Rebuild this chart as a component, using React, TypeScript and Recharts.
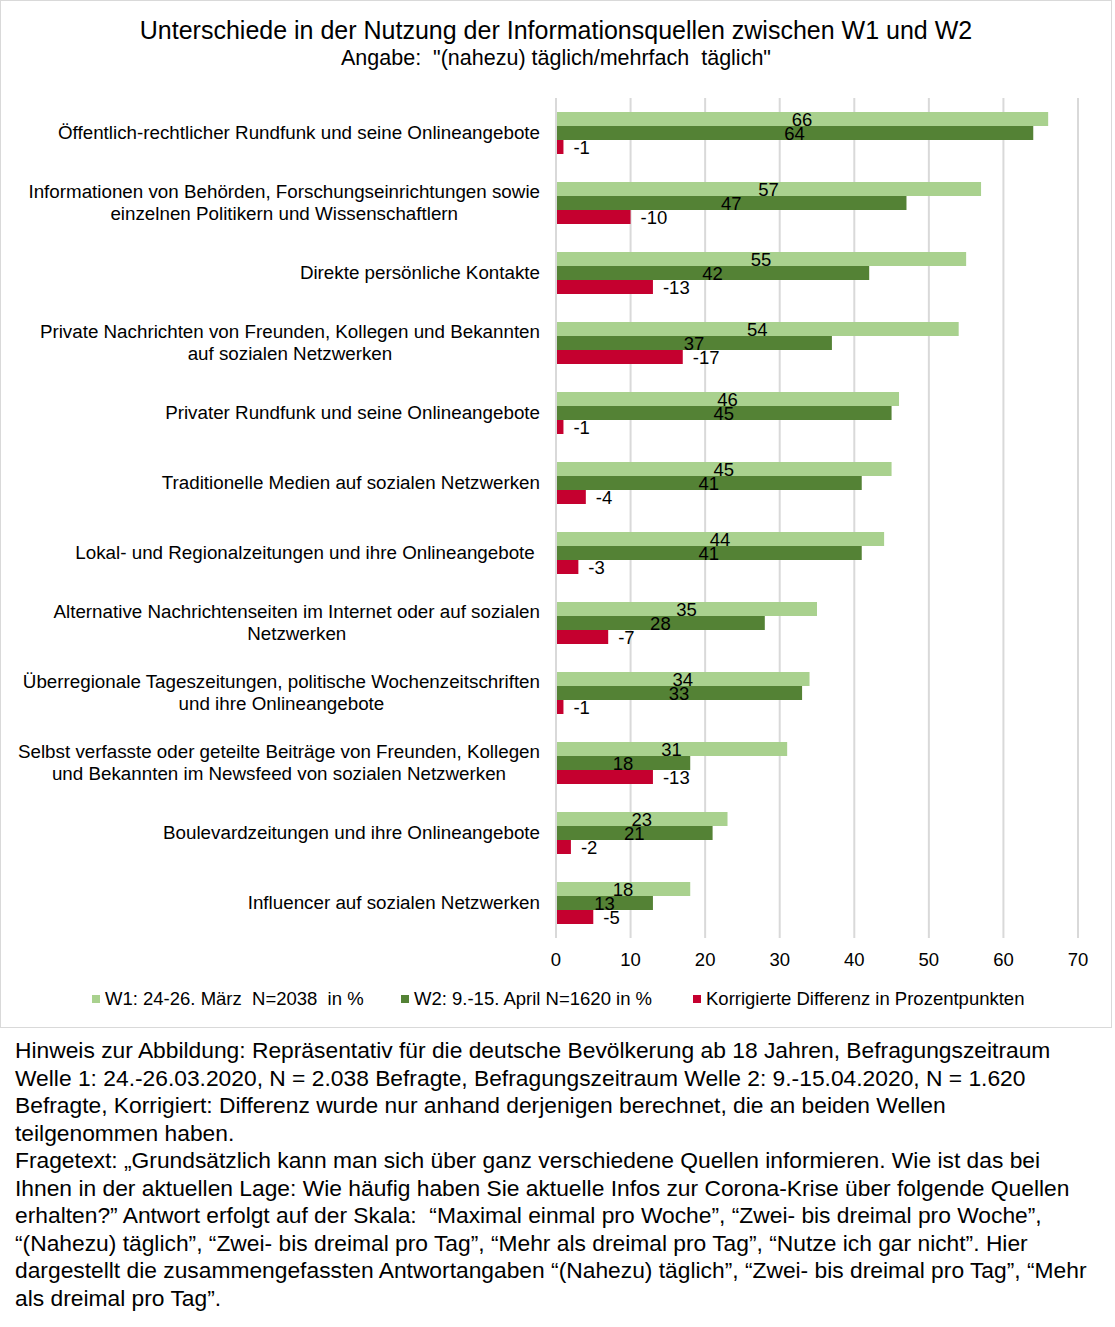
import { BarChart, Bar, XAxis, YAxis, CartesianGrid, LabelList } from 'recharts';

const categories = [
  'Öffentlich-rechtlicher Rundfunk und seine Onlineangebote',
  'Informationen von Behörden, Forschungseinrichtungen sowie\neinzelnen Politikern und Wissenschaftlern',
  'Direkte persönliche Kontakte',
  'Private Nachrichten von Freunden, Kollegen und Bekannten\nauf sozialen Netzwerken',
  'Privater Rundfunk und seine Onlineangebote',
  'Traditionelle Medien auf sozialen Netzwerken',
  'Lokal- und Regionalzeitungen und ihre Onlineangebote ',
  'Alternative Nachrichtenseiten im Internet oder auf sozialen\nNetzwerken',
  'Überregionale Tageszeitungen, politische Wochenzeitschriften\nund ihre Onlineangebote',
  'Selbst verfasste oder geteilte Beiträge von Freunden, Kollegen\nund Bekannten im Newsfeed von sozialen Netzwerken',
  'Boulevardzeitungen und ihre Onlineangebote',
  'Influencer auf sozialen Netzwerken'
];

const w1Values = [66, 57, 55, 54, 46, 45, 44, 35, 34, 31, 23, 18];
const w2Values = [64, 47, 42, 37, 45, 41, 41, 28, 33, 18, 21, 13];
const diffValues = [-1, -10, -13, -17, -1, -4, -3, -7, -1, -13, -2, -5];

const xTicks = [0, 10, 20, 30, 40, 50, 60, 70];

const seriesNames = {
  w1: 'W1: 24-26. März  N=2038  in %',
  w2: 'W2: 9.-15. April N=1620 in %',
  diff: 'Korrigierte Differenz in Prozentpunkten'
};

const noteLines = [
  'Hinweis zur Abbildung: Repräsentativ für die deutsche Bevölkerung ab 18 Jahren, Befragungszeitraum',
  'Welle 1: 24.-26.03.2020, N = 2.038 Befragte, Befragungszeitraum Welle 2: 9.-15.04.2020, N = 1.620',
  'Befragte, Korrigiert: Differenz wurde nur anhand derjenigen berechnet, die an beiden Wellen',
  'teilgenommen haben.',
  'Fragetext: „Grundsätzlich kann man sich über ganz verschiedene Quellen informieren. Wie ist das bei',
  'Ihnen in der aktuellen Lage: Wie häufig haben Sie aktuelle Infos zur Corona-Krise über folgende Quellen',
  'erhalten?” Antwort erfolgt auf der Skala:  “Maximal einmal pro Woche”, “Zwei- bis dreimal pro Woche”,',
  '“(Nahezu) täglich”, “Zwei- bis dreimal pro Tag”, “Mehr als dreimal pro Tag”, “Nutze ich gar nicht”. Hier',
  'dargestellt die zusammengefassten Antwortangaben “(Nahezu) täglich”, “Zwei- bis dreimal pro Tag”, “Mehr',
  'als dreimal pro Tag”.'
];

const COLORS = {
  w1: '#A9D18E',
  w2: '#548235',
  diff: '#C5002F',
  grid: '#D9D9D9'
};

const FONT = '"Liberation Sans", Arial, sans-serif';
const FS = 18.5;

const data = categories.map((name, i) => ({
  name,
  w1: w1Values[i],
  w2: w2Values[i],
  diff: diffValues[i]
}));

function CategoryTick({ y, payload }: any) {
  const lines = String(payload.value).split('\n');
  return (
    <foreignObject x={0} y={y - 35} width={540} height={70}>
      <div
        style={{
          width: 540,
          height: 70,
          display: 'flex',
          alignItems: 'center',
          justifyContent: 'flex-end',
          fontFamily: FONT,
          fontSize: 18.8,
          lineHeight: '22px',
          color: '#000'
        }}
      >
        <div style={{ textAlign: 'center', whiteSpace: 'pre' }}>
          {lines.map((l, i) => (
            <div key={i}>{l}</div>
          ))}
        </div>
      </div>
    </foreignObject>
  );
}

function LegendRow() {
  const items = [
    { key: 'w1', color: COLORS.w1, left: 92 },
    { key: 'w2', color: COLORS.w2, left: 401 },
    { key: 'diff', color: COLORS.diff, left: 693 }
  ] as const;
  return (
    <>
      {items.map((it) => (
        <div
          key={it.key}
          style={{
            position: 'absolute',
            left: it.left,
            top: 988,
            display: 'flex',
            alignItems: 'center',
            fontFamily: FONT,
            fontSize: FS,
            lineHeight: '22px',
            whiteSpace: 'pre'
          }}
        >
          <span style={{ width: 8, height: 8, background: it.color, marginRight: 5 }} />
          <span>{seriesNames[it.key]}</span>
        </div>
      ))}
    </>
  );
}

export default function App() {
  return (
    <div style={{ position: 'absolute', left: 0, top: 0, width: 1115, height: 1327, background: '#fff' }}>
      <div
        style={{
          position: 'absolute',
          left: 0,
          top: 0,
          width: 1110,
          height: 1026,
          border: '1px solid #D9D9D9'
        }}
      />
      <div
        style={{
          position: 'absolute',
          left: 0,
          top: 16,
          width: 1112,
          textAlign: 'center',
          fontFamily: FONT,
          color: '#000'
        }}
      >
        <div style={{ fontSize: 25, lineHeight: '29px' }}>
          Unterschiede in der Nutzung der Informationsquellen zwischen W1 und W2
        </div>
        <div style={{ fontSize: 21.5, lineHeight: '27px', whiteSpace: 'pre' }}>
          Angabe:  "(nahezu) täglich/mehrfach  täglich"
        </div>
      </div>

      <div style={{ position: 'absolute', left: 0, top: 0 }}>
        <BarChart
          width={1112}
          height={1028}
          data={data}
          layout="vertical"
          margin={{ top: 98, right: 34, bottom: 60, left: 0 }}
          barGap={0}
          barCategoryGap="20%"
        >
          <CartesianGrid horizontal={false} stroke={COLORS.grid} strokeWidth={2} />
          <XAxis
            type="number"
            domain={[0, 70]}
            ticks={xTicks}
            axisLine={false}
            tickLine={false}
            tickMargin={9}
            tick={{ fill: '#000', fontSize: FS, fontFamily: FONT }}
          />
          <YAxis
            type="category"
            dataKey="name"
            width={556}
            axisLine={{ stroke: COLORS.grid, strokeWidth: 2 }}
            tickLine={false}
            tick={<CategoryTick />}
            interval={0}
          />
          <Bar dataKey="w1" fill={COLORS.w1} barSize={14} isAnimationActive={false}>
            <LabelList dataKey="w1" position="center" fill="#000" fontSize={FS} fontFamily={FONT} />
          </Bar>
          <Bar dataKey="w2" fill={COLORS.w2} barSize={14} isAnimationActive={false}>
            <LabelList dataKey="w2" position="center" fill="#000" fontSize={FS} fontFamily={FONT} />
          </Bar>
          <Bar
            dataKey={(d: any) => Math.abs(d.diff)}
            fill={COLORS.diff}
            barSize={14}
            isAnimationActive={false}
          >
            <LabelList dataKey="diff" position="right" offset={10} fill="#000" fontSize={FS} fontFamily={FONT} />
          </Bar>
        </BarChart>
      </div>

      <LegendRow />

      <div
        style={{
          position: 'absolute',
          left: 15,
          top: 1037,
          fontFamily: FONT,
          fontSize: 22.8,
          lineHeight: '27.5px',
          color: '#000',
          whiteSpace: 'pre'
        }}
      >
        {noteLines.map((l, i) => (
          <div key={i}>{l}</div>
        ))}
      </div>
    </div>
  );
}
